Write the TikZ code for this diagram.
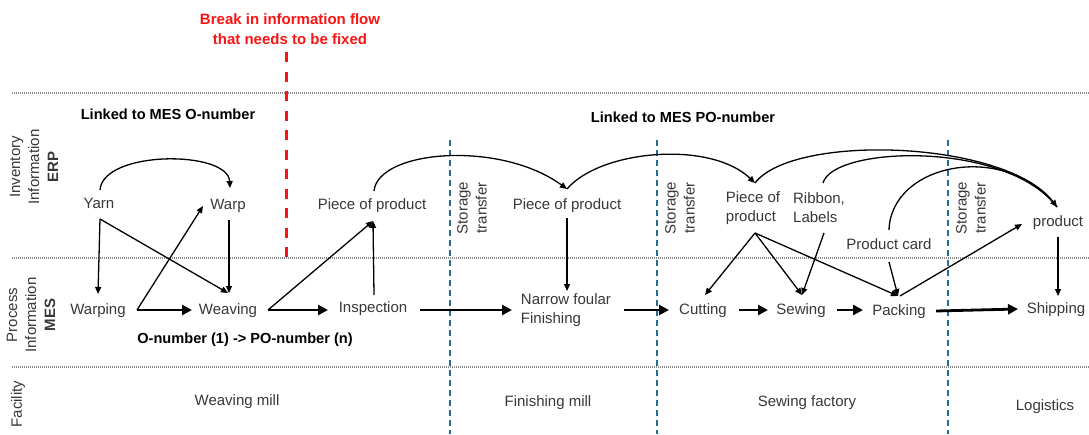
\documentclass[tikz,border=0pt]{standalone}
\usepackage{fontspec}
\setmainfont{Liberation Sans}
\usetikzlibrary{arrows.meta,calc}
\definecolor{txt}{RGB}{55,55,55}
\definecolor{alert}{RGB}{250,20,20}
\definecolor{siteblue}{RGB}{35,110,150}
\definecolor{rulegray}{RGB}{140,140,140}

\begin{document}
\begin{tikzpicture}[x=1pt,y=-1pt,
  lbl/.style={font=\fontsize{15}{19}\selectfont, text=txt, inner sep=0pt,
              text height=11pt, text depth=3pt},
  mlbl/.style={font=\fontsize{15}{19}\selectfont, text=txt, inner sep=0pt, align=left},
  hdr/.style={font=\bfseries\fontsize{14.6}{19}\selectfont, text=black, inner sep=0pt},
  side/.style={font=\fontsize{15}{19}\selectfont, text=txt, inner sep=0pt, rotate=90, align=center},
  lnk/.style={line width=1.3pt, -{Triangle[length=7pt,width=6pt]}},
  prc/.style={line width=2.8pt, -{Triangle[length=10pt,width=10pt]}},
  band/.style={rulegray, line width=1.1pt, dash pattern=on 0.8pt off 1.2pt},
  sitebound/.style={siteblue, line width=1.4pt, dash pattern=on 6pt off 4pt},
]
\useasboundingbox (0,0) rectangle (1089,434);

% lanes
\draw[band] (12,93) -- (1089,93);
\draw[band] (12,258) -- (1089,258);
\draw[band] (12,367) -- (1089,367);

% facility borders
\foreach \xx in {450,657,948} \draw[sitebound] (\xx,140) -- (\xx,434);

% break marker
\node[font=\bfseries\fontsize{15}{20}\selectfont, text=alert, align=center, inner sep=0pt]
  (brk) at (290,29) {Break in information flow\\that needs to be fixed};
\draw[alert, line width=3pt, dash pattern=on 10pt off 9.5pt] (286,52) -- (286,258);

% lane titles
\node[side] (erp) at (34,167) {Inventory\\Information\\\textbf{ERP}};
\node[side] (mes) at (31,315) {Process\\Information\\\textbf{MES}};
\node[side] (fac) at (18,404) {Facility};

% headings
\node[hdr] (onum) at (168,114) {Linked to MES O-number};
\node[hdr] (ponum) at (683,117) {Linked to MES PO-number};
\node[hdr] (split) at (245,340) {O-number (1) -> PO-number (n)};

% storage transfers
\node[side] (st1) at (472,208) {Storage\\transfer};
\node[side] (st2) at (680,208) {Storage\\transfer};
\node[side] (st3) at (971,208) {Storage\\transfer};

% facilities
\node[lbl] (fw) at (237,401) {Weaving mill};
\node[lbl] (ff) at (548,402) {Finishing mill};
\node[lbl] (fs) at (807,402) {Sewing factory};
\node[lbl] (fl) at (1045,406) {Logistics};

% inventory items
\node[lbl] (yarn) at (99,204) {Yarn};
\node[lbl] (warp) at (228,205) {Warp};
\node[lbl] (pop1) at (372,205) {Piece of product};
\node[lbl] (pop2) at (567,205) {Piece of product};
\node[mlbl] (pop3) at (753,208) {Piece of\\product};
\node[mlbl] (ribbon) at (819,208) {Ribbon,\\Labels};
\node[lbl] (card) at (889,245) {Product card};
\node[lbl] (product) at (1058,222) {product};

% process steps
\node[lbl] (warping) at (98,310) {Warping};
\node[lbl] (weaving) at (228,310) {Weaving};
\node[lbl] (insp) at (373,308) {Inspection};
\node[mlbl] (narrow) at (566,310) {Narrow foular\\Finishing};
\node[lbl] (cutting) at (703,310) {Cutting};
\node[lbl] (sewing) at (801,310) {Sewing};
\node[lbl] (packing) at (899,311) {Packing};
\node[lbl] (shipping) at (1056,309) {Shipping};

% main process flow
\draw[prc] ($(warping)+(39,0)$) -- ($(weaving)+(-36,0)$);
\draw[prc] ($(weaving)+(40,0)$) -- ($(insp)+(-45,2)$);
\draw[prc] ($(insp)+(47,2)$) -- ($(narrow)+(-54,0)$);
\draw[prc] ($(narrow)+(58,0)$) -- ($(cutting)+(-34,0)$);
\draw[prc] ($(cutting)+(36,0)$) -- ($(sewing)+(-33,0)$);
\draw[prc] ($(sewing)+(36,0)$) -- ($(packing)+(-36,-1)$);
\draw[prc] ($(packing)+(37,0)$) -- ($(shipping)+(-38,0)$);

% weaving mill links
\draw[lnk] ($(yarn)+(1,-14)$) .. controls ($(yarn)+(4,-54)$) and ($(warp)+(0,-55)$) .. ($(warp)+(2,-17)$);
\draw[lnk] ($(yarn)+(1,15)$) -- ($(warping)+(0,-16)$);
\draw[lnk] ($(yarn)+(1,15)$) -- ($(weaving)+(0,-17)$);
\draw[lnk] ($(warping)+(39,0)$) -- ($(warp)+(-25,1)$);
\draw[lnk] ($(warp)+(1,15)$) -- ($(weaving)+(1,-17)$);
\draw[lnk] ($(weaving)+(40,0)$) -- ($(pop1)+(1,16)$);
\draw[lnk] ($(insp)+(1,-13)$) -- ($(pop1)+(1,16)$);

% piece of product hand-overs
\draw[lnk] ($(pop1)+(2,-14)$) .. controls ($(pop1)+(6,-55)$) and ($(pop2)+(-67,-65)$) .. ($(pop2)+(0,-16)$);
\draw[lnk] ($(pop2)+(0,-16)$) .. controls ($(pop2)+(33,-55)$) and ($(pop3)+(-43,-68)$) .. ($(pop3)+(2,-25)$);
\draw[lnk] ($(pop2)+(0,13)$) -- ($(narrow)+(1,-19)$);

% sewing factory links: three inputs joining into the finished product
\draw[line width=1.3pt] ($(ribbon)+(4,-25)$) .. controls ($(ribbon)+(14,-62)$) and ($(product)+(-52,-82)$) .. ($(product)+(-1,-15)$);
\draw[line width=1.3pt] ($(card)+(0,-15)$) .. controls ($(card)+(2,-82)$) and ($(product)+(-52,-82)$) .. ($(product)+(-1,-15)$);
\draw[lnk] ($(pop3)+(2,-25)$) .. controls ($(pop3)+(40,-75)$) and ($(product)+(-52,-82)$) .. ($(product)+(-1,-15)$);
\draw[lnk] ($(pop3)+(2,25)$) -- ($(cutting)+(2,-15)$);
\draw[lnk] ($(pop3)+(2,25)$) -- ($(sewing)+(1,-15)$);
\draw[lnk] ($(pop3)+(2,25)$) -- ($(packing)+(-1,-15)$);
\draw[lnk] ($(ribbon)+(5,25)$) -- ($(sewing)+(1,-15)$);
\draw[lnk] ($(card)+(0,17)$) -- ($(packing)+(-1,-15)$);
\draw[lnk] ($(packing)+(1,-15)$) -- ($(product)+(-36,2)$);
\draw[lnk] ($(product)+(0,15)$) -- ($(shipping)+(2,-13)$);
\end{tikzpicture}
\end{document}
